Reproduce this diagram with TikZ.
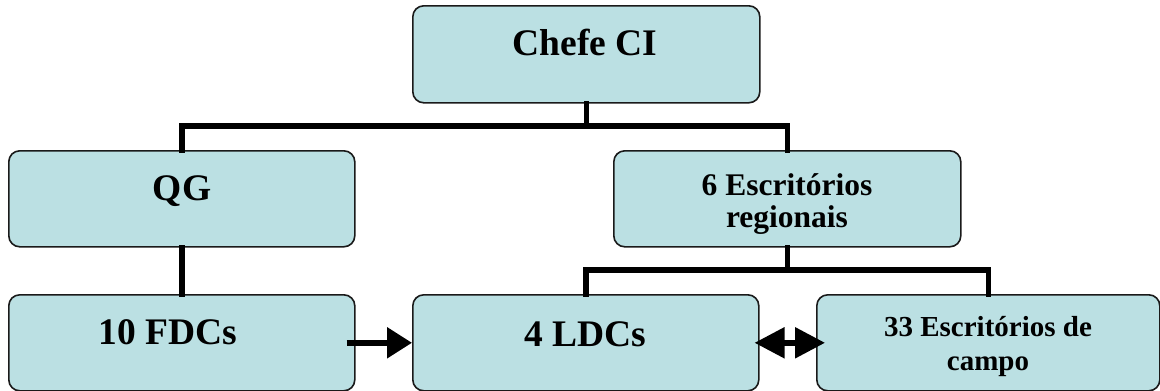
\documentclass[tikz,border=0pt]{standalone}
\usepackage{fontspec}
\setmainfont{Liberation Serif}
\usetikzlibrary{arrows.meta,calc}
\definecolor{boxfill}{HTML}{BBE0E3}
\definecolor{boxline}{HTML}{1A1A1A}
\tikzset{
  orgbox/.style={draw=boxline, fill=boxfill, line width=1.6pt, rounded corners=11pt,
    minimum width=346pt, minimum height=96pt, inner sep=0pt, anchor=north west},
  bigtxt/.style={font=\fontsize{37.5}{40}\selectfont\bfseries, anchor=base, inner sep=0pt},
  midtxt/.style={font=\fontsize{31.5}{32}\selectfont\bfseries, anchor=base, inner sep=0pt, align=center},
  smalltxt/.style={font=\fontsize{29}{34}\selectfont\bfseries, anchor=base, inner sep=0pt, align=center},
  bus/.style={line width=5.5pt, line join=miter, line cap=rect},
  flow/.style={line width=5.5pt, -{Triangle[length=25pt,width=30pt]}},
  twoway/.style={line width=5.5pt, {Triangle[length=30pt,width=30pt]}-{Triangle[length=30pt,width=30pt]}}
}
\begin{document}
\begin{tikzpicture}[x=1pt,y=-1pt]
\useasboundingbox (0,0) rectangle (1160,391);
% boxes
\node[orgbox, minimum width=347pt, minimum height=97pt] (chefe) at (412,5) {};
\node[orgbox] (qg)   at (8,150) {};
\node[orgbox, minimum width=347pt] (esc6) at (613,150) {};
\node[orgbox] (fdc)  at (8,294) {};
\node[orgbox] (ldc)  at (412,294) {};
\node[orgbox, minimum width=343pt] (c33) at (816,294) {};
% texts (multi-line ones are anchored on their last baseline)
\node[bigtxt] (chefe-t) at (585,55) {Chefe CI};
\node[bigtxt] (qg-t) at (182,200) {QG};
\node[bigtxt] (fdc-t) at (168,344) {10 FDCs};
\node[bigtxt] (ldc-t) at (585,346) {4 LDCs};
\node[midtxt] (esc6-t) at (787,227) {6 Escritórios\\regionais};
\node[smalltxt] (c33-t) at (988,370) {33 Escritórios de\\campo};
% tree connectors
\coordinate (bus1) at (chefe.south |- 0,126);
\coordinate (bus2) at (esc6.south |- 0,270);
\draw[bus] (chefe.south) -- (bus1);
\draw[bus] (qg.north) |- (bus1) -| (esc6.north);
\draw[bus] (qg.south) -- (fdc.north);
\draw[bus] (esc6.south) -- (bus2);
\draw[bus] (ldc.north) |- (bus2) -| (c33.north);
% links between the bottom row
\draw[flow] ($(fdc.east)+(-9,0)$) -- (ldc.west);
\draw[twoway] ($(ldc.east)+(-5,0)$) -- ($(c33.west)+(9,0)$);
\end{tikzpicture}
\end{document}
